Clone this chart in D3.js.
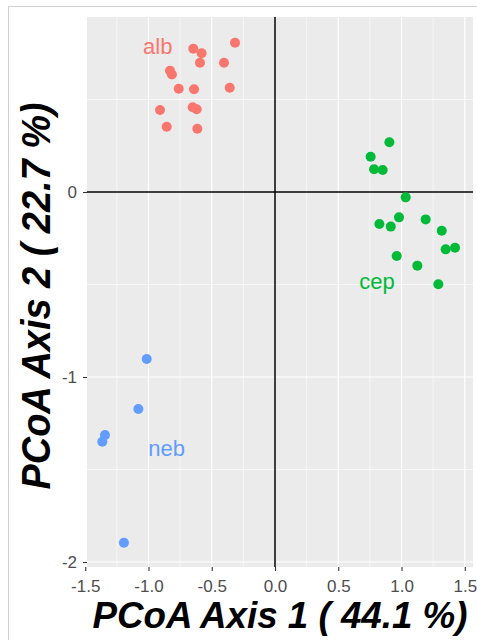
<!DOCTYPE html>
<html>
<head>
<meta charset="utf-8">
<script src="https://cdn.jsdelivr.net/npm/d3@7"></script>
<style>
  body { margin: 0; background: #fff; }
  svg { display: block; font-family: "Liberation Sans", Arial, sans-serif; }
</style>
</head>
<body>
<script>
// PCoA scores
var albX = [-0.316, -0.646, -0.580, -0.593, -0.403, -0.830, -0.815, -0.761, -0.640, -0.358, -0.909, -0.651, -0.619, -0.856, -0.614];
var albY = [0.807, 0.775, 0.750, 0.699, 0.699, 0.655, 0.635, 0.558, 0.555, 0.564, 0.443, 0.458, 0.447, 0.353, 0.342];
var cepX = [0.904, 0.756, 0.783, 0.851, 1.033, 0.980, 1.191, 0.825, 0.915, 1.318, 1.349, 1.423, 0.962, 1.125, 1.291];
var cepY = [0.269, 0.191, 0.123, 0.119, -0.029, -0.137, -0.148, -0.173, -0.187, -0.209, -0.310, -0.301, -0.346, -0.398, -0.499];
var nebX = [-1.014, -1.080, -1.344, -1.365, -1.194];
var nebY = [-0.903, -1.173, -1.314, -1.350, -1.896];

var groups = ['alb', 'cep', 'neb'];
var colors = ['#F8766D', '#00BA38', '#619CFF'];
// label anchor = baseline centre
var labelX = [-0.927, 0.806, -0.856];
var labelY = [0.744, -0.526, -1.427];

var xTicks = [-1.5, -1.0, -0.5, 0.0, 0.5, 1.0, 1.5];
var yTicks = [-2, -1, 0];
var xTitle = 'PCoA Axis 1 ( 44.1 %)';
var yTitle = 'PCoA Axis 2 ( 22.7 %)';

var width = 477, height = 640;
var pLeft = 87, pRight = 473, pTop = 17, pBottom = 567;

var x = d3.scaleLinear().domain([-1.486, 1.565]).range([pLeft, pRight]);
var y = d3.scaleLinear().domain([-2.027, 0.946]).range([pBottom, pTop]);

var svg = d3.select('body').append('svg')
    .attr('width', width)
    .attr('height', height);

// outer frame of the screenshot
svg.append('path')
    .attr('d', 'M8.5,640V6.5H477')
    .attr('fill', 'none')
    .attr('stroke', '#d0d0d0');

svg.append('rect')
    .attr('x', pLeft).attr('y', pTop)
    .attr('width', pRight - pLeft).attr('height', pBottom - pTop)
    .attr('fill', '#EBEBEB');

// minor grid
var xMinor = [-1.25, -0.75, -0.25, 0.25, 0.75, 1.25];
var yMinor = [-1.5, -0.5, 0.5];
svg.selectAll('.xminor').data(xMinor).enter().append('line')
    .attr('x1', x).attr('x2', x).attr('y1', pTop).attr('y2', pBottom)
    .attr('stroke', '#fff').attr('stroke-width', 0.6);
svg.selectAll('.yminor').data(yMinor).enter().append('line')
    .attr('y1', y).attr('y2', y).attr('x1', pLeft).attr('x2', pRight)
    .attr('stroke', '#fff').attr('stroke-width', 0.6);

// major grid
svg.selectAll('.xmajor').data(xTicks).enter().append('line')
    .attr('x1', x).attr('x2', x).attr('y1', pTop).attr('y2', pBottom)
    .attr('stroke', '#fff').attr('stroke-width', 1.2);
svg.selectAll('.ymajor').data(yTicks).enter().append('line')
    .attr('y1', y).attr('y2', y).attr('x1', pLeft).attr('x2', pRight)
    .attr('stroke', '#fff').attr('stroke-width', 1.2);

// zero lines
svg.append('line')
    .attr('x1', x(0)).attr('x2', x(0)).attr('y1', pTop).attr('y2', pBottom)
    .attr('stroke', '#000').attr('stroke-width', 1.5);
svg.append('line')
    .attr('x1', pLeft).attr('x2', pRight).attr('y1', y(0)).attr('y2', y(0))
    .attr('stroke', '#000').attr('stroke-width', 1.5);

// axes
var xAxis = svg.append('g')
    .attr('transform', 'translate(0,' + pBottom + ')')
    .call(d3.axisBottom(x).tickValues(xTicks)
      .tickFormat(function(d) { return d.toFixed(1); })
      .tickSize(4).tickPadding(9));
var yAxis = svg.append('g')
    .attr('transform', 'translate(' + pLeft + ',0)')
    .call(d3.axisLeft(y).tickValues(yTicks)
      .tickFormat(function(d) { return String(d); })
      .tickSize(4).tickPadding(6));
[xAxis, yAxis].forEach(function(a) {
  a.select('.domain').remove();
  a.selectAll('line').attr('stroke', '#333').attr('stroke-width', 1.1);
  a.selectAll('text')
    .attr('fill', '#4D4D4D')
    .style('font-size', '17px')
    .style('font-family', '"Liberation Sans", Arial, sans-serif');
});

// points
var series = [[albX, albY], [cepX, cepY], [nebX, nebY]];
series.forEach(function(s, i) {
  svg.selectAll('.pt' + i)
    .data(d3.range(s[0].length))
    .enter().append('circle')
    .attr('cx', function(j) { return x(s[0][j]); })
    .attr('cy', function(j) { return y(s[1][j]); })
    .attr('r', 5)
    .attr('fill', colors[i]);
});

// group labels
svg.selectAll('.lab')
    .data(groups)
    .enter().append('text')
    .attr('x', function(d, i) { return x(labelX[i]); })
    .attr('y', function(d, i) { return y(labelY[i]); })
    .attr('text-anchor', 'middle')
    .attr('fill', function(d, i) { return colors[i]; })
    .style('font-size', '22px')
    .text(function(d) { return d; });

// titles
svg.append('text')
    .attr('x', (pLeft + pRight) / 2)
    .attr('y', 628)
    .attr('text-anchor', 'middle')
    .attr('textLength', 375)
    .attr('lengthAdjust', 'spacingAndGlyphs')
    .style('font-size', '37px')
    .style('font-weight', 'bold')
    .style('font-style', 'italic')
    .text(xTitle);

svg.append('text')
    .attr('transform', 'translate(50,296) rotate(-90)')
    .attr('text-anchor', 'middle')
    .attr('textLength', 387)
    .attr('lengthAdjust', 'spacingAndGlyphs')
    .style('font-size', '40px')
    .style('font-weight', 'bold')
    .style('font-style', 'italic')
    .text(yTitle);
</script>
</body>
</html>
